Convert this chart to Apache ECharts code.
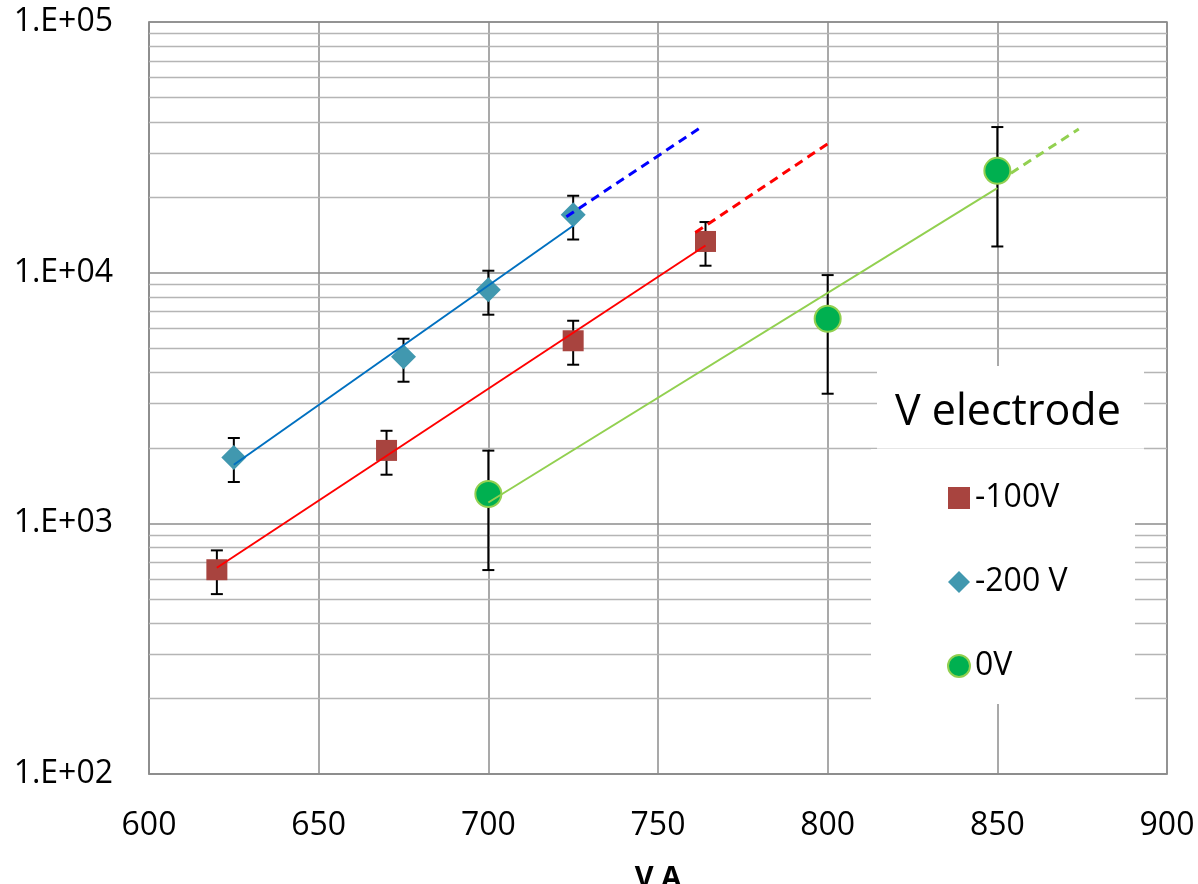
<!DOCTYPE html>
<html>
<head>
<meta charset="utf-8">
<script src="https://cdn.jsdelivr.net/npm/echarts@6/dist/echarts.min.js"></script>
<style>
html,body{margin:0;padding:0;background:#fff;}
#chart{width:1198px;height:884px;}
</style>
</head>
<body>
<div id="chart"></div>
<script>
// ---- data ----
const xTicks = [600, 650, 700, 750, 800, 850, 900];
const yTicks = [100, 1000, 10000, 100000];
const minorGridValues = [200,300,400,500,600,700,800,900,
  2000,3000,4000,5000,6000,7000,8000,9000,
  20000,30000,40000,50000,60000,70000,80000,90000];

const seriesNames = ['-100V', '-200 V', '0V'];

const xM100 = [620, 670, 725, 764];
const yM100 = [653, 1954, 5350, 13320];
const loM100 = [522, 1563, 4293, 10660];
const hiM100 = [780, 2340, 6430, 15920];

const xM200 = [625, 675, 700, 725];
const yM200 = [1832, 4620, 8550, 17020];
const loM200 = [1462, 3672, 6797, 13560];
const hiM200 = [2190, 5450, 10180, 20270];

const x0V = [700, 800, 850];
const y0V = [1309, 6550, 25480];
const lo0V = [651, 3289, 12720];
const hi0V = [1950, 9780, 38100];

// trend lines (solid fit) and forward projections (dashed)
const fitM200 = [[625, 1713], [725, 15380]];
const projM200 = [[723, 16710], [762, 37500]];
const fitM100 = [[620, 665], [764, 12830]];
const projM100 = [[761, 14460], [800, 32660]];
const fit0V = [[700, 1211], [850, 21750]];
const proj0V = [[854, 24950], [874, 37410]];

// ---- build ----
const FONT = '"Open Sans", "Noto Sans", sans-serif';
const zip = (xs, ys) => xs.map((x, i) => [x, ys[i]]);
const errData = [];
[[xM100, loM100, hiM100], [xM200, loM200, hiM200], [x0V, lo0V, hi0V]].forEach(([xs, lo, hi]) => {
  xs.forEach((x, i) => errData.push([x, lo[i], hi[i]]));
});

const chart = echarts.init(document.getElementById('chart'), null, {renderer: 'canvas'});
const gridColor = '#8c8c8c';
const minorColor = '#b5b5b5';

const option = {
  animation: false,
  backgroundColor: '#ffffff',
  grid: {
    left: 149, right: 31, top: 22, bottom: 110,
    outerBoundsMode: 'none', containLabel: false,
    show: true, borderColor: gridColor, borderWidth: 1.5, backgroundColor: 'transparent'
  },
  title: {
    text: 'V electrode',
    left: 895, top: 391, padding: 0,
    z: 10,
    textStyle: {fontFamily: FONT, fontSize: 43, fontWeight: 'normal', color: '#000'}
  },
  legend: {
    data: seriesNames,
    orient: 'vertical',
    left: 942, top: 477,
    itemWidth: 22, itemHeight: 22,
    itemGap: 52,
    z: 10,
    textStyle: {fontFamily: FONT, fontSize: 32, color: '#000', lineHeight: 32}
  },
  graphic: {
    elements: [
      {type: 'rect', z: 8, shape: {x: 877, y: 366, width: 267, height: 84}, style: {fill: '#fff'}},
      {type: 'rect', z: 8, shape: {x: 871, y: 449, width: 264, height: 255}, style: {fill: '#fff'}},
      {type: 'line', z: 9, shape: {x1: 877, y1: 448.5, x2: 1144, y2: 448.5}, style: {stroke: '#e6e6e6', lineWidth: 1}}
    ]
  },
  xAxis: {
    type: 'value',
    min: xTicks[0], max: xTicks[xTicks.length - 1], interval: 50,
    name: 'V A', nameLocation: 'middle', nameGap: 90,
    nameTextStyle: {fontFamily: FONT, fontSize: 29, fontWeight: 'bold', color: '#000'},
    axisLine: {show: true, lineStyle: {color: gridColor, width: 1.5}},
    axisTick: {show: false},
    axisLabel: {fontFamily: FONT, fontSize: 32, color: '#000', margin: 36},
    splitLine: {show: true, lineStyle: {color: gridColor, width: 1.5}}
  },
  yAxis: {
    type: 'log', logBase: 10,
    min: yTicks[0], max: yTicks[yTicks.length - 1],
    axisLine: {show: true, lineStyle: {color: gridColor, width: 1.5}},
    axisTick: {show: false},
    axisLabel: {
      fontFamily: FONT, fontSize: 32, color: '#000', margin: 36,
      formatter: v => {
        const e = Math.round(Math.log10(v));
        return '1.E+' + (e < 10 ? '0' + e : e);
      }
    },
    splitLine: {show: true, lineStyle: {color: gridColor, width: 1.5}}
  },
  series: [
    {
      type: 'custom', name: 'err', z: 2, silent: true,
      data: errData,
      renderItem: (params, api) => {
        const x = api.value(0);
        const pLo = api.coord([x, api.value(1)]);
        const pHi = api.coord([x, api.value(2)]);
        const hw = 6;
        const st = {stroke: '#000', lineWidth: 2};
        return {type: 'group', children: [
          {type: 'line', shape: {x1: pLo[0], y1: pLo[1], x2: pHi[0], y2: pHi[1]}, style: st},
          {type: 'line', shape: {x1: pLo[0] - hw, y1: pLo[1], x2: pLo[0] + hw, y2: pLo[1]}, style: st},
          {type: 'line', shape: {x1: pHi[0] - hw, y1: pHi[1], x2: pHi[0] + hw, y2: pHi[1]}, style: st}
        ]};
      }
    },
    {
      type: 'scatter', name: seriesNames[0], z: 3,
      symbol: 'rect', symbolSize: 21,
      itemStyle: {color: '#a8443f', opacity: 1},
      data: zip(xM100, yM100),
      markLine: {
        silent: true, z: 1, symbol: 'none', label: {show: false},
        lineStyle: {color: minorColor, width: 1.3, type: 'solid'},
        data: minorGridValues.map(v => ({yAxis: v}))
      }
    },
    {
      type: 'scatter', name: seriesNames[1], z: 3,
      symbol: 'diamond', symbolSize: 25,
      itemStyle: {color: '#4198af', opacity: 1},
      data: zip(xM200, yM200)
    },
    {
      type: 'scatter', name: seriesNames[2], z: 3,
      symbol: 'circle', symbolSize: 26,
      itemStyle: {color: '#00b050', borderColor: '#92d050', borderWidth: 2, opacity: 1},
      data: zip(x0V, y0V)
    },
    {type: 'line', z: 4, silent: true, symbol: 'none', data: fitM200, lineStyle: {color: '#0070c0', width: 2}},
    {type: 'line', z: 4, silent: true, symbol: 'none', data: projM200, lineStyle: {color: '#0000ff', width: 3, type: [9, 6]}},
    {type: 'line', z: 4, silent: true, symbol: 'none', data: fitM100, lineStyle: {color: '#ff0000', width: 2}},
    {type: 'line', z: 4, silent: true, symbol: 'none', data: projM100, lineStyle: {color: '#ff0000', width: 3, type: [9, 6]}},
    {type: 'line', z: 4, silent: true, symbol: 'none', data: fit0V, lineStyle: {color: '#92d050', width: 2}},
    {type: 'line', z: 4, silent: true, symbol: 'none', data: proj0V, lineStyle: {color: '#92d050', width: 3, type: [9, 6]}}
  ]
};
chart.setOption(option);
</script>
</body>
</html>
